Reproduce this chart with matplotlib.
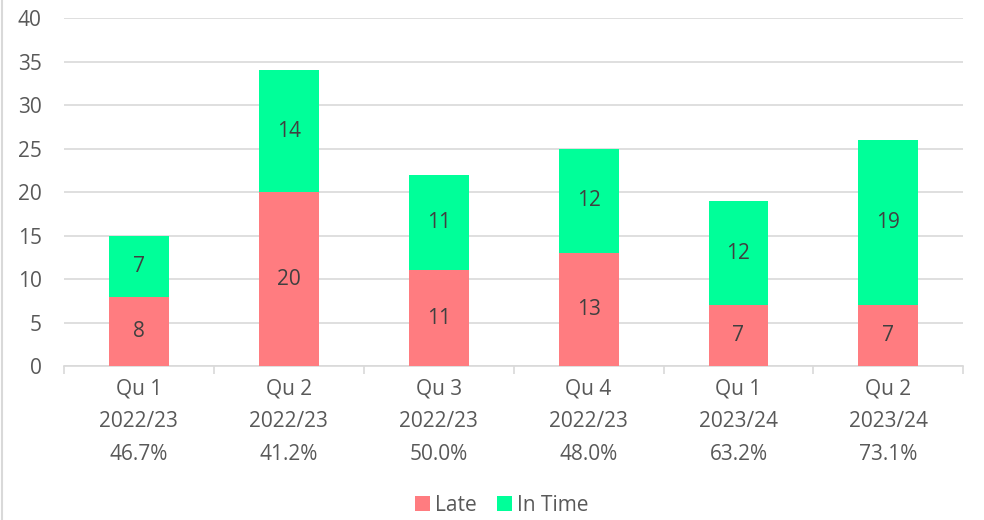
import numpy as np
import matplotlib
matplotlib.use("Agg")
import matplotlib.pyplot as plt
from matplotlib.lines import Line2D

quarters = ["Qu 1", "Qu 2", "Qu 3", "Qu 4", "Qu 1", "Qu 2"]
years    = ["2022/23", "2022/23", "2022/23", "2022/23", "2023/24", "2023/24"]
pct      = ["46.7%", "41.2%", "50.0%", "48.0%", "63.2%", "73.1%"]
late     = [8, 20, 11, 13, 7, 7]
in_time  = [7, 14, 11, 12, 12, 19]

plt.rcParams['font.family'] = ['Open Sans', 'DejaVu Sans']
txtc = '#595959'
fs = 15

fig = plt.figure(figsize=(9.84, 5.2), dpi=100)
ax = fig.add_axes([0.065, 0.296, 0.914, 0.669])

x = np.arange(len(late))
bw = 0.4
b1 = ax.bar(x, late, bw, color='#FF7C80', label='Late', zorder=3)
b2 = ax.bar(x, in_time, bw, bottom=late, color='#00FF99', label='In Time', zorder=3)
ax.bar_label(b1, label_type='center', fontsize=fs, color='#404040')
ax.bar_label(b2, label_type='center', fontsize=fs, color='#404040')

ax.set_xlim(-0.5, len(late) - 0.5)
ax.set_ylim(0, 40)
ax.set_yticks(range(0, 41, 5))
ax.yaxis.grid(True, color='#d9d9d9', lw=1.2, zorder=0)
ax.tick_params(axis='y', length=0, labelsize=fs, labelcolor=txtc, pad=16)

ax.set_xticks(x, [f"{q}\n{y}\n{p}" for q, y, p in zip(quarters, years, pct)])
ax.tick_params(axis='x', which='major', length=0, labelsize=fs, labelcolor=txtc, pad=9)
ax.set_xticks(np.arange(-0.5, len(late)), minor=True)
ax.tick_params(axis='x', which='minor', length=6, color='#d9d9d9', width=1.2)
for lab in ax.get_xticklabels():
    lab.set_linespacing(1.72)

for s in ['top', 'right', 'left']:
    ax.spines[s].set_visible(False)
ax.spines['bottom'].set_color('#d9d9d9')
ax.spines['bottom'].set_linewidth(1.2)

fig.legend(handles=[b1, b2], labels=['Late', 'In Time'], loc='lower center',
           bbox_to_anchor=(0.51, -0.028), ncol=2, frameon=False, fontsize=fs,
           handlelength=0.7, handleheight=0.7, handletextpad=0.25, columnspacing=1.0,
           labelcolor=txtc)

fig.add_artist(Line2D([0.002, 0.002], [0, 1], color='#d9d9d9', lw=1.5, transform=fig.transFigure))

fig.savefig("out.png", dpi=100)
